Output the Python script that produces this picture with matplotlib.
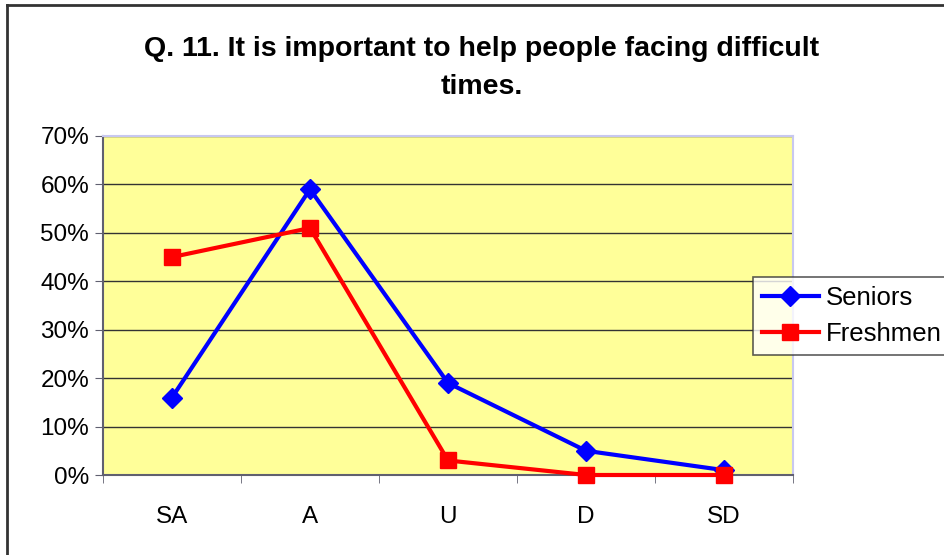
import matplotlib
matplotlib.use("Agg")
import matplotlib.pyplot as plt
from matplotlib.lines import Line2D
from matplotlib.ticker import FuncFormatter, FixedLocator

categories = ["SA", "A", "U", "D", "SD"]
seniors = [16, 59, 19, 5, 1]
freshmen = [45, 51, 3, 0, 0]

plt.rcParams['font.family'] = ['Liberation Sans', 'DejaVu Sans']

fig = plt.figure(figsize=(9.45, 5.55), dpi=100)
ax = fig.add_axes([103 / 945, 1 - 475 / 555, 690 / 945, 339 / 555])
ax.set_facecolor('#FFFF99')

x = list(range(len(categories)))
ax.plot(x, seniors, color='#0000FF', lw=3, marker='D', ms=10,
        label='Seniors', zorder=3, clip_on=False)
ax.plot(x, freshmen, color='#FF0000', lw=3, marker='s', ms=12,
        label='Freshmen', zorder=4, clip_on=False)

ax.set_xlim(-0.5, len(categories) - 0.5)
ax.set_ylim(0, 70)
ax.set_yticks(range(0, 71, 10))
ax.yaxis.set_major_formatter(FuncFormatter(lambda v, _: f"{v:.0f}%"))
ax.grid(axis='y', color='#333333', lw=1)
ax.set_axisbelow(True)

ax.set_xticks(x)
ax.set_xticklabels(categories)
ax.xaxis.set_minor_locator(FixedLocator([i - 0.5 for i in range(len(categories) + 1)]))
ax.tick_params(axis='x', which='major', length=0, pad=22, labelsize=17.5)
ax.tick_params(axis='x', which='minor', length=6, color='#606070')
ax.tick_params(axis='y', length=6, color='#606070', labelsize=17.5, pad=4)

for s in ['left', 'bottom']:
    ax.spines[s].set_color('#606070')
    ax.spines[s].set_linewidth(1.5)
for s in ['top', 'right']:
    ax.spines[s].set_color('#C8C8F0')
    ax.spines[s].set_linewidth(1.5)

fig.text(0.51, 0.935, 'Q. 11. It is important to help people facing difficult\ntimes.',
         ha='center', va='top', fontsize=20.5, fontweight='bold', linespacing=1.6)

leg = fig.legend(loc='upper left', bbox_to_anchor=(753 / 945, 1 - 277 / 555),
                 fontsize=18.5, frameon=True, fancybox=False, edgecolor='#333333',
                 handlelength=2.2, borderpad=0.35, labelspacing=0.45,
                 handletextpad=0.3, borderaxespad=0)
leg.get_frame().set_linewidth(1.2)

fig.add_artist(Line2D([7 / 945, 7 / 945], [0, 1 - 5 / 555], color='#333333', lw=2))
fig.add_artist(Line2D([7 / 945, 1], [1 - 5 / 555, 1 - 5 / 555], color='#333333', lw=2))

fig.savefig('out.png', dpi=100)
